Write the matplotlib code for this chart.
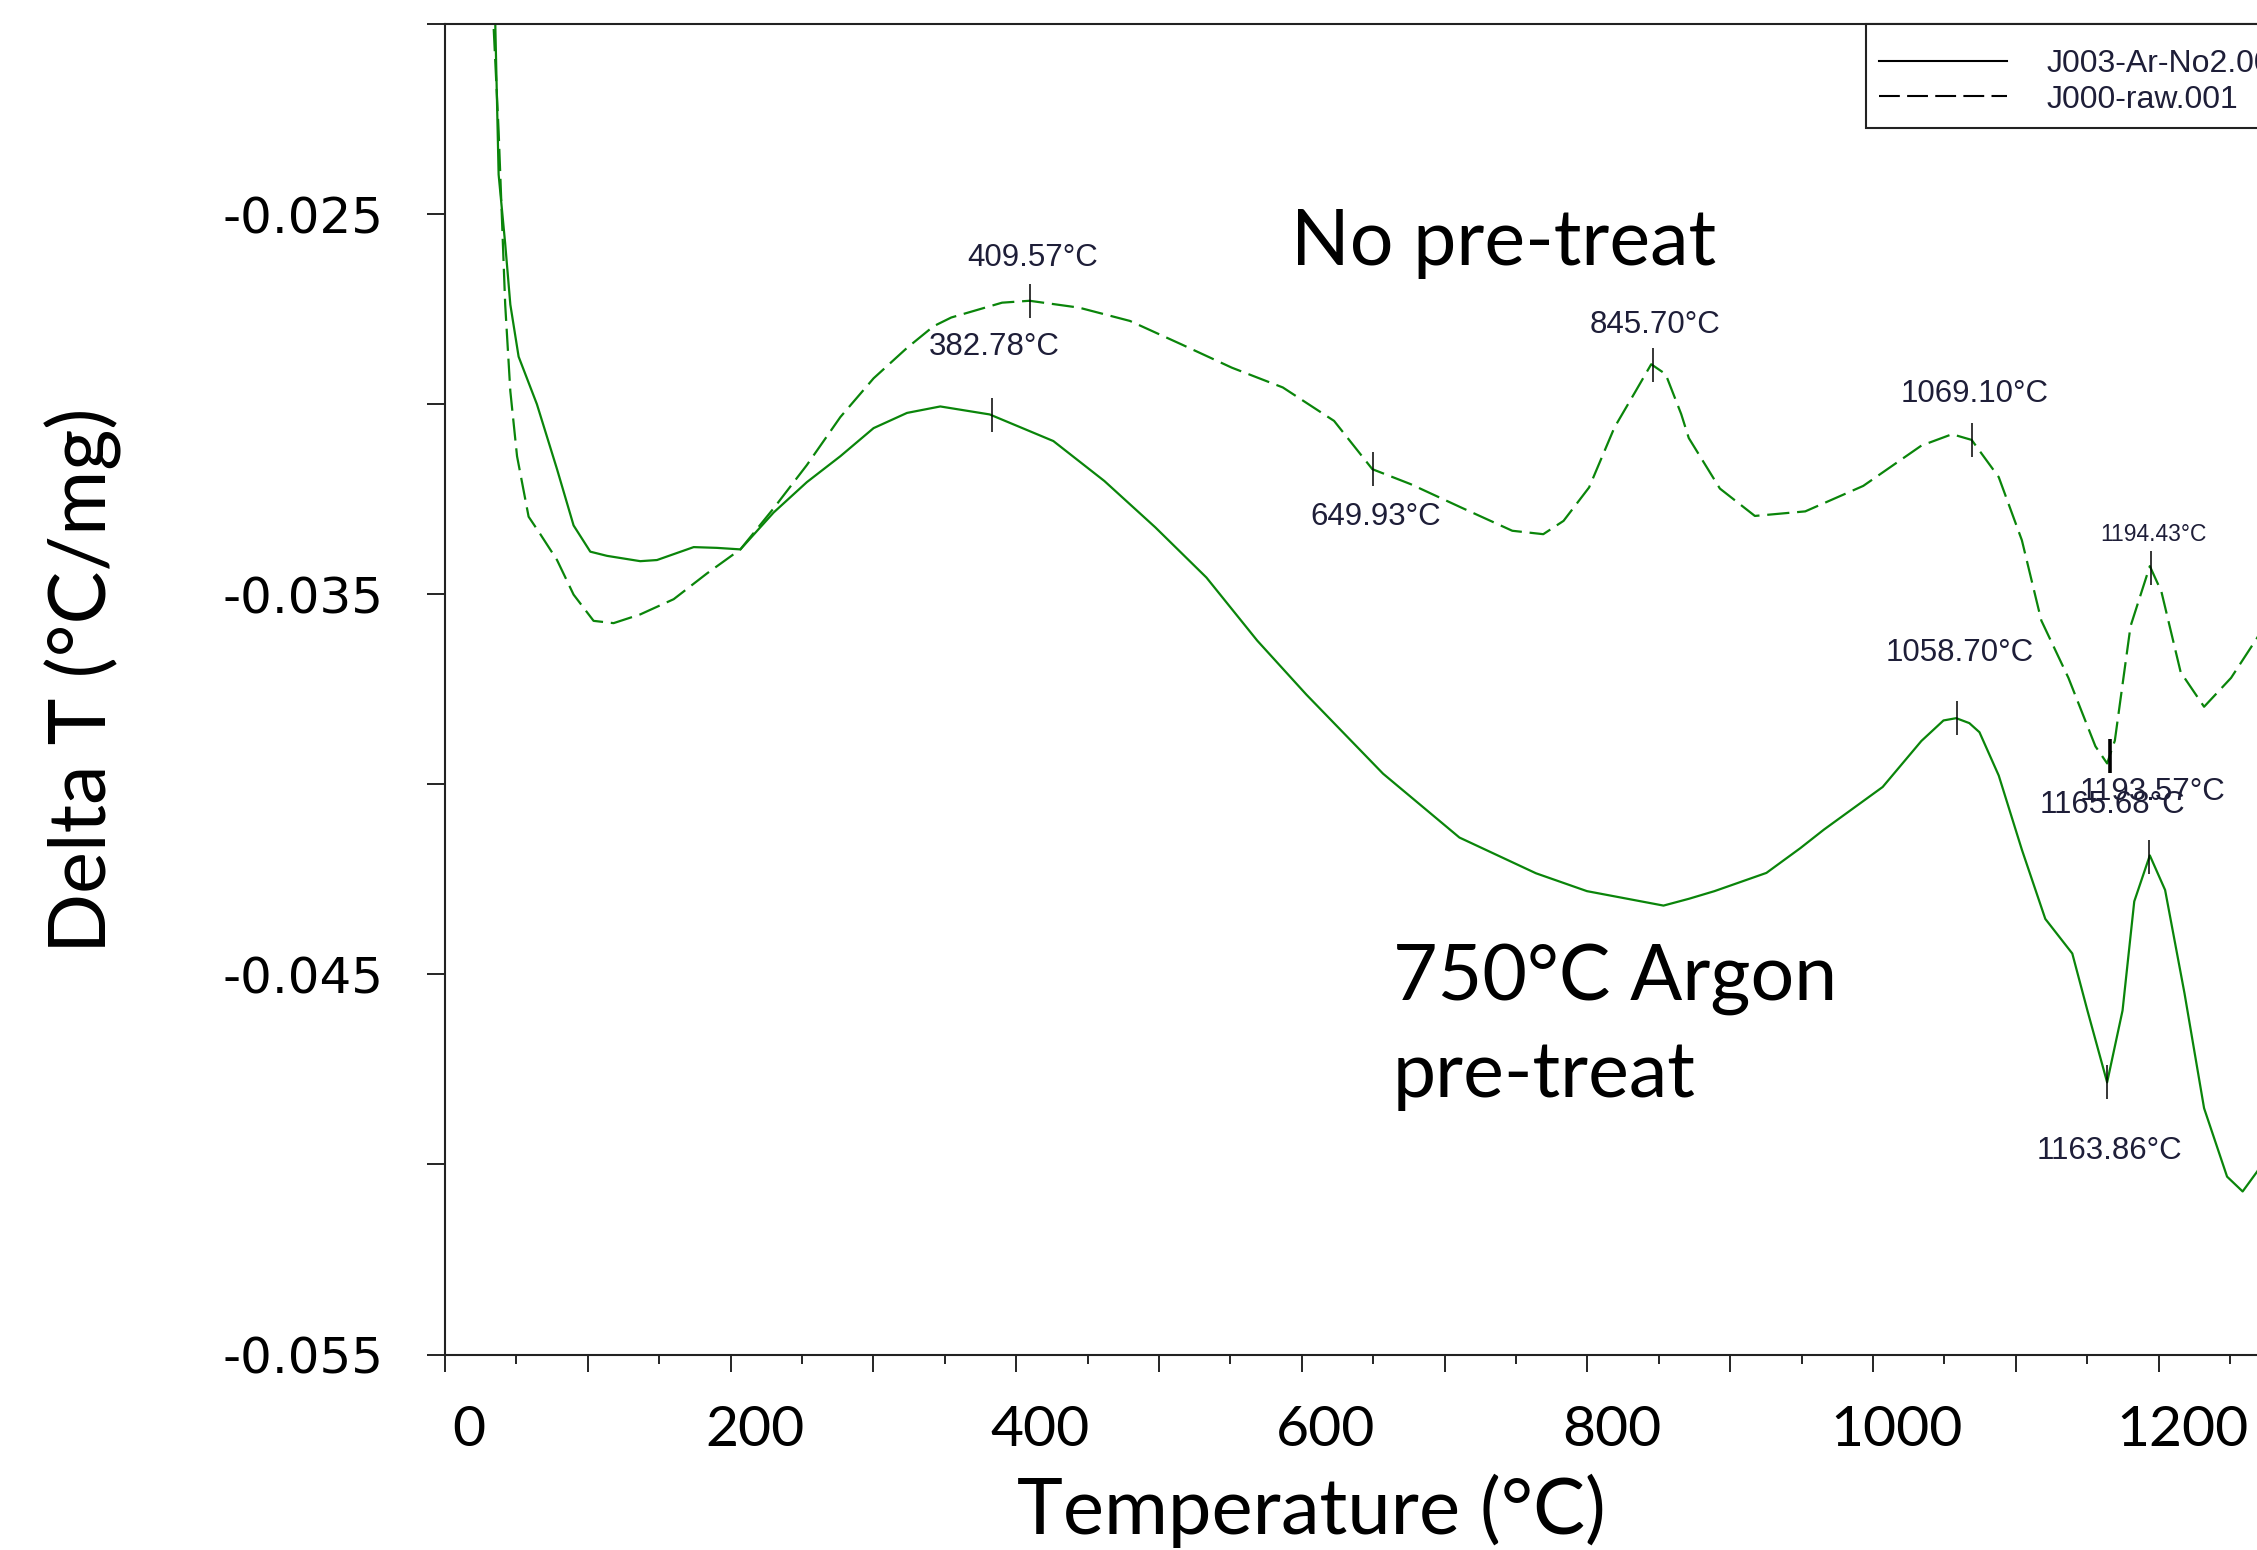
import numpy as np
import matplotlib.pyplot as plt
from matplotlib.lines import Line2D
from matplotlib.transforms import ScaledTranslation

# J000-raw.001 (no pre-treat), dashed curve
raw_temp = [33.5, 34.0, 37.5, 39.8, 42.1, 45.7, 50.4, 58.5, 66.7, 78.4, 90.0, 104.0, 118.0,
            136.7, 160.1, 183.5, 206.8, 230.1, 253.4, 276.8, 300.1, 323.5, 342.1, 354.5,
            390.1, 409.3, 443.9, 479.6, 515.3, 551.0, 586.7, 622.6, 649.4, 676.0, 711.7,
            747.4, 769.1, 783.3, 801.2, 819.0, 833.3, 844.7, 854.8, 865.7, 871.0, 892.8,
            917.3, 952.6, 993.2, 1033.9, 1055.4, 1069.1, 1088.1, 1104.3, 1117.9, 1136.9,
            1155.8, 1164.0, 1169.4, 1180.4, 1193.9, 1202.0, 1215.5, 1231.9, 1250.8, 1269.2,
            1285.0]
raw_dt = [-0.0190, -0.02008, -0.02282, -0.02510, -0.02738, -0.02966, -0.03137, -0.03296,
          -0.03342, -0.03410, -0.03501, -0.03570, -0.03576, -0.03553, -0.03513, -0.03445,
          -0.03382, -0.03274, -0.03160, -0.03034, -0.02932, -0.02852, -0.02795, -0.02772,
          -0.02733, -0.02728, -0.02746, -0.02781, -0.02842, -0.02904, -0.02956, -0.03044,
          -0.03171, -0.03210, -0.03272, -0.03333, -0.03342, -0.03307, -0.03219, -0.03061,
          -0.02969, -0.02895, -0.02921, -0.03026, -0.03089, -0.03222, -0.03294, -0.03282,
          -0.03215, -0.03109, -0.03079, -0.03094, -0.03192, -0.03358, -0.03569, -0.03720,
          -0.03900, -0.03945, -0.03885, -0.03584, -0.03426, -0.03493, -0.03705, -0.03796,
          -0.03720, -0.03614, -0.0350]

# J003-Ar-No2.001 (750 C argon pre-treat), solid curve
ar_temp = [34.8, 35.2, 37.5, 42.1, 45.7, 51.5, 64.3, 78.4, 90.0, 101.7, 113.4, 136.7, 148.4,
           174.1, 190.4, 206.8, 230.1, 253.4, 276.8, 300.1, 323.5, 346.8, 381.4, 426.0,
           461.7, 497.4, 533.2, 568.8, 603.2, 656.9, 710.4, 764.0, 799.7, 853.3, 871.2,
           889.0, 925.4, 949.1, 965.7, 1006.8, 1033.9, 1049.4, 1058.3, 1067.5, 1074.6,
           1088.1, 1104.3, 1120.7, 1139.6, 1150.2, 1164.0, 1174.8, 1183.0, 1193.9, 1204.6,
           1218.2, 1231.9, 1248.0, 1258.9, 1269.2, 1280.0]
ar_dt = [-0.0190, -0.02008, -0.02396, -0.02578, -0.02738, -0.02875, -0.03000, -0.03171,
         -0.03319, -0.03388, -0.03399, -0.03413, -0.03410, -0.03376, -0.03378, -0.03382,
         -0.03285, -0.03205, -0.03137, -0.03063, -0.03023, -0.03006, -0.03027, -0.03097,
         -0.03202, -0.03324, -0.03456, -0.03622, -0.03764, -0.03972, -0.04140, -0.04234,
         -0.04281, -0.04319, -0.04301, -0.04281, -0.04233, -0.04168, -0.04119, -0.04007,
         -0.03886, -0.03832, -0.03826, -0.03839, -0.03863, -0.03977, -0.04172, -0.04354,
         -0.04445, -0.04595, -0.04784, -0.04595, -0.04308, -0.04187, -0.04278, -0.04550,
         -0.04852, -0.05032, -0.05071, -0.05018, -0.0495]

# marked peak temperatures
raw_peaks = [409.57, 649.93, 845.70, 1069.10, 1165.68, 1194.43]
ar_peaks = [382.78, 1058.70, 1163.86, 1193.57]

legend_labels = ["J003-Ar-No2.001", "J000-raw.001"]
x_ticks = [0, 100, 200, 300, 400, 500, 600, 700, 800, 900, 1000, 1100, 1200, 1300]
x_tick_labels = ["0", "", "200", "", "400", "", "600", "", "800", "", "1000", "", "1200", ""]
y_ticks = [-0.055, -0.050, -0.045, -0.040, -0.035, -0.030, -0.025, -0.020]
y_tick_labels = ["-0.055", "", "-0.045", "", "-0.035", "", "-0.025", ""]

# label offsets (points) and sizes for the peak labels
raw_label_dy = [31, -34, 29, 33, -35, 24]
raw_label_size = [22.5, 22.5, 22.5, 22.5, 22.5, 16.5]
ar_label_dy = [49, 47, -50, 47]
ar_label_size = [22.5, 22.5, 22.5, 22.5]

green = "#0a850a"
text_navy = "#1e1e38"
big_font = "Lato"
small_font = "Liberation Sans"
dash = (0, (10, 3.5))

fig = plt.figure(figsize=(22.57, 15.50), dpi=100)
ax = fig.add_axes([0.1972, 0.1261, 0.8857, 0.8584])

ax.plot(raw_temp, raw_dt, color=green, lw=1.6, ls=dash)
ax.plot(ar_temp, ar_dt, color=green, lw=1.6, ls="-")

# peak markers and labels
for temps, dts, peaks, dys, sizes in [(raw_temp, raw_dt, raw_peaks, raw_label_dy, raw_label_size),
                                      (ar_temp, ar_dt, ar_peaks, ar_label_dy, ar_label_size)]:
    for p, dy, fs in zip(peaks, dys, sizes):
        yp = np.interp(p, temps, dts)
        mew = 2.6 if p == 1165.68 else 1.1
        ax.plot([p], [yp], marker="|", ms=24, mew=mew, color="black", ls="none")
        ax.annotate(f"{p:.2f}°C", (p, yp), xytext=(2, dy), textcoords="offset points",
                    ha="center", va="center", fontsize=fs, family=small_font, color=text_navy)

ax.set_xlim(0, 1400)
ax.set_ylim(-0.055, -0.020)

for side in ["top", "left", "bottom"]:
    ax.spines[side].set_linewidth(1.5)
    ax.spines[side].set_color("#222222")
ax.spines["right"].set_visible(False)

ax.set_xticks(x_ticks, labels=x_tick_labels)
ax.set_xticks(np.arange(50, 1400, 100), minor=True)
ax.set_yticks(y_ticks, labels=y_tick_labels)
ax.tick_params(axis="x", which="major", direction="out", length=12, width=1.2, pad=24,
               labelsize=41)
ax.tick_params(axis="x", which="minor", direction="out", length=6.5, width=1.2)
ax.tick_params(axis="y", which="major", direction="out", length=13, width=1.2, pad=31,
               labelsize=36)
shift = ScaledTranslation(0.24, 0, fig.dpi_scale_trans)
for lab in ax.get_xticklabels():
    lab.set_fontfamily(big_font)
    lab.set_transform(lab.get_transform() + shift)
for lab in ax.get_yticklabels():
    lab.set_fontfamily("DejaVu Sans")

ax.set_xlabel("Temperature (°C)", family=big_font, fontsize=56)
ax.xaxis.set_label_coords(0.4332, -0.0898)
ax.set_ylabel("Delta T (°C/mg)", family=big_font, fontsize=57)
ax.yaxis.set_label_coords(-0.1616, 0.507)

# legend: a tiny blank title keeps the rows low while the box stays short
handles = [Line2D([], [], color="black", lw=1.5, ls="-"),
           Line2D([], [], color="black", lw=1.5, ls=dash)]
leg = ax.legend(handles, legend_labels, loc="upper left", bbox_to_anchor=(0.7109, 1.0),
                borderaxespad=0, fancybox=False, framealpha=1, edgecolor="#222222",
                prop={"family": small_font, "size": 23}, handlelength=4.0,
                handletextpad=1.24, labelspacing=0.18, borderpad=0.41,
                title=" ", title_fontsize=5)
leg.get_frame().set_linewidth(1.5)
for t in leg.get_texts():
    t.set_color(text_navy)

fig.text(0.5720, 0.8430, "No pre-treat", family=big_font, fontsize=55.5,
         ha="left", va="center")
fig.text(0.6172, 0.3375, "750°C Argon\npre-treat", family=big_font, fontsize=55.5,
         ha="left", va="center", linespacing=1.45)

fig.savefig("out.png", dpi=100)
